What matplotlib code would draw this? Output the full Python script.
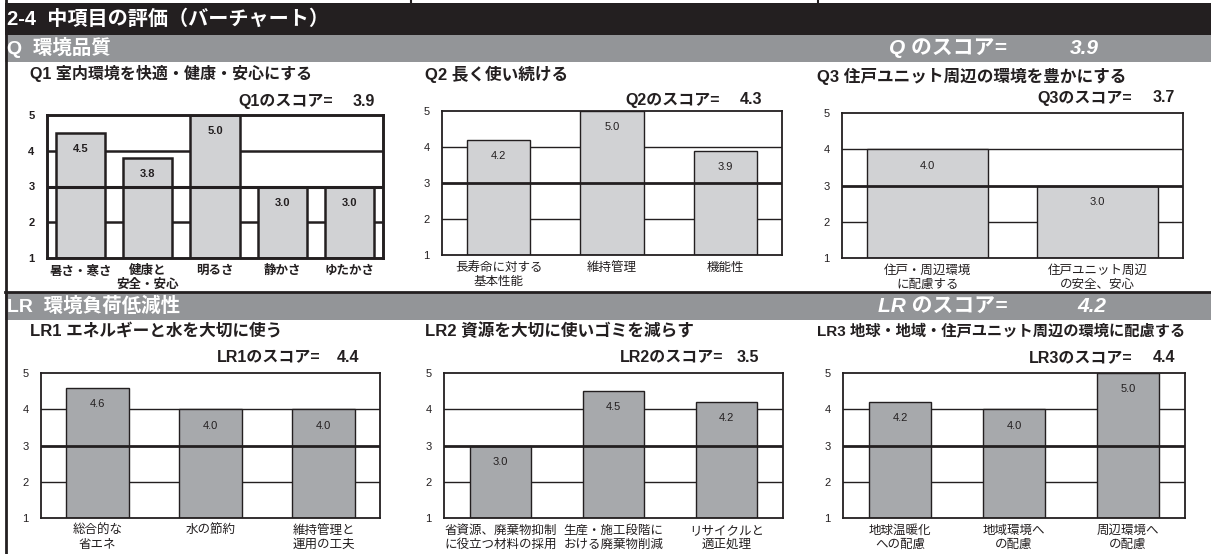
import matplotlib
matplotlib.use("Agg")
import matplotlib.pyplot as plt
from matplotlib.patches import Rectangle
import numpy as np

plt.rcParams['font.family'] = ['Liberation Sans', 'Noto Sans CJK JP']

W, H = 1211, 554

# ---- data ----
q1_cats = ['暑さ・寒さ', '健康と\n安全・安心', '明るさ', '静かさ', 'ゆたかさ']
q1_vals = [4.5, 3.8, 5.0, 3.0, 3.0]
q2_cats = ['長寿命に対する\n基本性能', '維持管理', '機能性']
q2_vals = [4.2, 5.0, 3.9]
q3_cats = ['住戸・周辺環境\nに配慮する', '住戸ユニット周辺\nの安全、安心']
q3_vals = [4.0, 3.0]
lr1_cats = ['総合的な\n省エネ', '水の節約', '維持管理と\n運用の工夫']
lr1_vals = [4.6, 4.0, 4.0]
lr2_cats = ['省資源、廃棄物抑制\nに役立つ材料の採用', '生産・施工段階に\nおける廃棄物削減', 'リサイクルと\n適正処理']
lr2_vals = [3.0, 4.5, 4.2]
lr3_cats = ['地球温暖化\nへの配慮', '地域環境へ\nの配慮', '周辺環境へ\nの配慮']
lr3_vals = [4.2, 4.0, 5.0]

titles = ['Q1 室内環境を快適・健康・安心にする', 'Q2 長く使い続ける', 'Q3 住戸ユニット周辺の環境を豊かにする',
          'LR1 エネルギーと水を大切に使う', 'LR2 資源を大切に使いゴミを減らす', 'LR3 地球・地域・住戸ユニット周辺の環境に配慮する']
score_names = ['Q1', 'Q2', 'Q3', 'LR1', 'LR2', 'LR3']
scores = [3.9, 4.3, 3.7, 4.4, 3.5, 4.4]
q_score = 3.9
lr_score = 4.2

DARK = '#231f20'
BAND = '#939598'
Q_BAR = '#d1d2d4'
LR_BAR = '#a7a9ac'

fig = plt.figure(figsize=(W / 100, H / 100), dpi=100)
fig.patch.set_facecolor('white')

# background layer in pixel coordinates
bg = fig.add_axes([0, 0, 1, 1])
bg.set_xlim(0, W)
bg.set_ylim(H, 0)
bg.axis('off')

bg.add_patch(Rectangle((5, 3), W - 5, 32, color=DARK, lw=0))
bg.add_patch(Rectangle((5, 35), W - 5, 27, color=BAND, lw=0))
bg.add_patch(Rectangle((5, 293), W - 5, 27, color=BAND, lw=0))
bg.plot([5, W], [292, 292], color=DARK, lw=2)
bg.plot([6, 6], [0, H], color=DARK, lw=2)
for xv in [411, 818]:
    bg.plot([xv, xv], [0, 3], color=DARK, lw=1.5)

bg.text(7, 19, '2-4  中項目の評価（バーチャート）', color='white', fontsize=14.5,
        fontweight='bold', va='center', ha='left')
bg.text(7, 48, 'Q  環境品質', color='white', fontsize=14, fontweight='bold', va='center')
bg.text(7, 306, 'LR  環境負荷低減性', color='white', fontsize=14, fontweight='bold', va='center')
bg.text(1007, 48, 'Q のスコア=', color='white', fontsize=15, fontweight='bold',
        style='italic', va='center', ha='right')
bg.text(1070, 48, f'{q_score:.1f}', color='white', fontsize=15, fontweight='bold',
        style='italic', va='center', ha='left')
bg.text(1007, 306, 'LR のスコア=', color='white', fontsize=15, fontweight='bold',
        style='italic', va='center', ha='right')
bg.text(1077, 306, f'{lr_score:.1f}', color='white', fontsize=15, fontweight='bold',
        style='italic', va='center', ha='left')

# titles and score lines: (title x, title y, title size, label end x, value start x, score y)
text_pos = [(30, 74, 11.5, 333, 353, 101), (425, 74, 12, 720, 740, 100),
            (817, 76, 12, 1132, 1153, 98), (30, 331, 12, 320, 337, 357),
            (425, 331, 12, 723, 737, 357), (817, 332, 11, 1132, 1153, 358)]
for i, (tx, ty, ts, lx, vx, sy) in enumerate(text_pos):
    bg.text(tx, ty, titles[i], color=DARK, fontsize=ts, fontweight='bold', va='center')
    bg.text(lx, sy, f'{score_names[i]}のスコア=', color=DARK, fontsize=11.5,
            fontweight='bold', va='center', ha='right')
    bg.text(vx, sy, f'{scores[i]:.1f}', color=DARK, fontsize=11.5,
            fontweight='bold', va='center', ha='left')


def panel(box, cats, vals, color, width, heavy=False):
    l, t, r, b = box
    ax = fig.add_axes([l / W, 1 - b / H, (r - l) / W, (b - t) / H])
    x = np.arange(len(cats))
    v = np.array(vals)
    lw = 1.8 if heavy else 1.0
    wt = 'bold' if heavy else 'normal'
    ax.bar(x, v - 1, bottom=1, width=width, color=color, edgecolor=DARK,
           linewidth=lw, zorder=2)
    for yv in [2, 4]:
        ax.axhline(yv, color=DARK, lw=lw, zorder=1)
    ax.axhline(3, color=DARK, lw=2.2 if heavy else 2.0, zorder=4)
    for xi, vi in zip(x, v):
        ax.text(xi, vi - 0.45, f'{vi:.1f}', ha='center', va='center',
                fontsize=8, color=DARK, fontweight=wt, zorder=5)
    ax.set_xlim(-0.5, len(cats) - 0.5)
    ax.set_ylim(1, 5)
    ax.set_yticks([1, 2, 3, 4, 5])
    ax.set_xticks(x)
    ax.set_xticklabels(cats, fontsize=9, color=DARK, fontweight=wt, linespacing=1.25)
    ax.tick_params(axis='both', length=0, labelcolor=DARK)
    ax.tick_params(axis='y', labelsize=8, pad=9)
    ax.tick_params(axis='x', pad=5)
    if heavy:
        for lab in ax.get_yticklabels():
            lab.set_fontweight('bold')
    for s in ax.spines.values():
        s.set_color(DARK)
        s.set_linewidth(lw + 0.3)
        s.set_zorder(6)
    ax.set_facecolor('white')
    return ax


panel((47, 115, 383, 258), q1_cats, q1_vals, Q_BAR, 0.73, heavy=True)
panel((442, 111, 782, 255), q2_cats, q2_vals, Q_BAR, 0.56)
panel((842, 113, 1183, 258), q3_cats, q3_vals, Q_BAR, 0.71)
panel((41, 373, 380, 518), lr1_cats, lr1_vals, LR_BAR, 0.56)
panel((444, 373, 783, 518), lr2_cats, lr2_vals, LR_BAR, 0.54)
panel((843, 373, 1185, 518), lr3_cats, lr3_vals, LR_BAR, 0.54)

fig.savefig('out.png', dpi=100)
